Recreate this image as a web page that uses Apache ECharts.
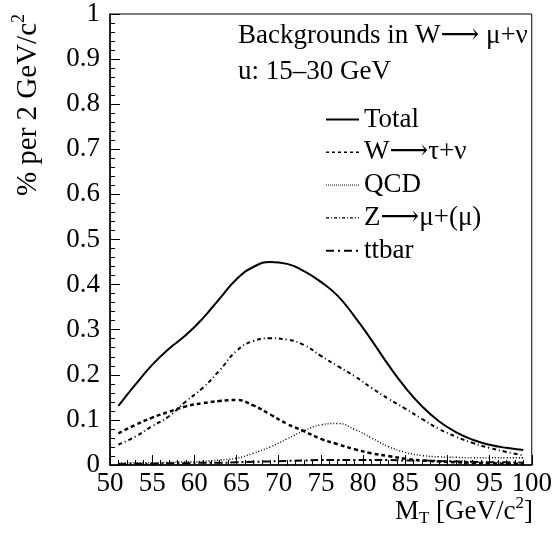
<!DOCTYPE html>
<html>
<head>
<meta charset="utf-8">
<script src="https://cdn.jsdelivr.net/npm/echarts@6/dist/echarts.min.js"></script>
<style>
html,body{margin:0;padding:0;background:#fff;}
#c{width:555px;height:533px;}
</style>
</head>
<body>
<div id="c"></div>
<script>
var mt = [51,53,55,57,59,61,63,65,67,69,71,73,75,77,79,81,83,85,87,89,91,93,95,97,99];
var total = [0.131,0.178,0.222,0.258,0.288,0.325,0.369,0.412,0.439,0.450,0.446,0.430,0.406,0.375,0.329,0.277,0.222,0.172,0.130,0.097,0.073,0.056,0.045,0.038,0.033];
var wtau = [0.070,0.089,0.105,0.118,0.130,0.137,0.142,0.144,0.132,0.112,0.091,0.075,0.058,0.046,0.035,0.026,0.020,0.014,0.010,0.008,0.006,0.005,0.004,0.003,0.003];
var qcd = [0.005,0.005,0.005,0.006,0.007,0.008,0.011,0.015,0.026,0.040,0.058,0.076,0.089,0.092,0.079,0.060,0.041,0.028,0.021,0.018,0.017,0.016,0.016,0.016,0.016];
var zmu = [0.045,0.063,0.086,0.108,0.141,0.171,0.210,0.253,0.275,0.281,0.278,0.266,0.242,0.219,0.197,0.171,0.147,0.125,0.102,0.080,0.063,0.049,0.038,0.029,0.021];
var ttbar = [0.002,0.003,0.003,0.004,0.004,0.005,0.005,0.006,0.007,0.008,0.009,0.010,0.011,0.011,0.011,0.011,0.011,0.010,0.010,0.009,0.008,0.007,0.006,0.006,0.005];
var xTicks = [50,55,60,65,70,75,80,85,90,95,100];
var seriesNames = ['Total','W\u27F6\u03c4+\u03bd','QCD','Z\u27F6\u03bc+(\u03bc)','ttbar'];

function pairs(v){ return mt.map(function(x,i){ return [x, v[i]]; }); }
var FONT = '"Liberation Serif", "DejaVu Serif", serif';
var FS = 27;
var chart = echarts.init(document.getElementById('c'));
function mk(name, vals, type, width){
  return {
    name: name, type: 'line', data: pairs(vals), smooth: true, symbol: 'none', showSymbol: false,
    lineStyle: {color: '#000', width: width, type: type}, itemStyle: {color: '#000'}, animation: false
  };
}
var legendLines = [
  {width: 2, type: 'solid'},
  {width: 1.5, type: [3,3]},
  {width: 1, type: [1,1]},
  {width: 1.2, type: [3,2,1,2]},
  {width: 2, type: [8,4,2,4]}
];
chart.setOption({
  animation: false,
  grid: {left: 110, right: 21, top: 14, bottom: 68, show: true, borderColor: '#000', borderWidth: 1},
  xAxis: {
    type: 'value', min: 50, max: 100, interval: 5,
    axisLine: {lineStyle: {color: '#000', width: 1.5}},
    axisTick: {inside: true, length: 10, lineStyle: {color: '#000'}},
    minorTick: {show: true, splitNumber: 5, length: 5, lineStyle: {color: '#000'}},
    splitLine: {show: false},
    axisLabel: {color: '#000', fontFamily: FONT, fontSize: FS, margin: 5,
      formatter: function(v){ return xTicks.indexOf(v) >= 0 ? String(v) : ''; }}
  },
  yAxis: {
    type: 'value', min: 0, max: 1, interval: 0.1,
    axisLine: {lineStyle: {color: '#000', width: 1.5}},
    axisTick: {inside: true, length: 10, lineStyle: {color: '#000'}},
    minorTick: {show: true, splitNumber: 5, length: 5, lineStyle: {color: '#000'}},
    splitLine: {show: false},
    axisLabel: {color: '#000', fontFamily: FONT, fontSize: FS, margin: 10,
      formatter: function(v){ return v === 0 ? '0' : (v === 1 ? '1' : v.toFixed(1)); }}
  },
  legend: {
    orient: 'vertical', left: 325, top: 105.5, padding: 0, itemWidth: 33, itemHeight: 14, itemGap: 4.8,
    itemStyle: {opacity: 0},
    textStyle: {fontFamily: FONT, fontSize: FS, color: '#000', lineHeight: 28},
    data: seriesNames.map(function(n, i){ return {name: n, lineStyle: legendLines[i], itemStyle: {opacity: 0}}; })
  },
  graphic: [
    {type: 'text', x: 238, y: 36, style: {text: 'Backgrounds in W\u27F6 \u03bc+\u03bd', fontFamily: FONT, fontSize: FS, verticalAlign: 'middle', fill: '#000'}},
    {type: 'text', x: 238, y: 72, style: {text: 'u: 15\u201330 GeV', fontFamily: FONT, fontSize: FS, verticalAlign: 'middle', fill: '#000'}},
    {type: 'text', x: 28, y: 14, rotation: Math.PI/2,
      style: {text: '{a|% per 2 GeV/c}{s|2}', align: 'right', verticalAlign: 'middle', fill: '#000',
        rich: {a: {fontFamily: FONT, fontSize: 29, fill: '#000'}, s: {fontFamily: FONT, fontSize: 18, fill: '#000', padding: [0,0,17,0]}}}},
    {type: 'text', x: 533, y: 512,
      style: {text: '{a|M}{b|T}{a| [GeV/c}{s|2}{a|]}', align: 'right', verticalAlign: 'middle', fill: '#000',
        rich: {a: {fontFamily: FONT, fontSize: FS, fill: '#000'}, b: {fontFamily: FONT, fontSize: 17, fill: '#000', padding: [14,0,0,0]}, s: {fontFamily: FONT, fontSize: 17, fill: '#000', padding: [0,0,16,0]}}}}
  ],
  series: [
    mk(seriesNames[0], total, 'solid', 2),
    mk(seriesNames[1], wtau, [4,3], 2.5),
    mk(seriesNames[2], qcd, [1,2], 1.5),
    mk(seriesNames[3], zmu, [4,3,1,3], 2),
    mk(seriesNames[4], ttbar, [8,3,2,3], 2)
  ]
});
</script>
</body>
</html>
